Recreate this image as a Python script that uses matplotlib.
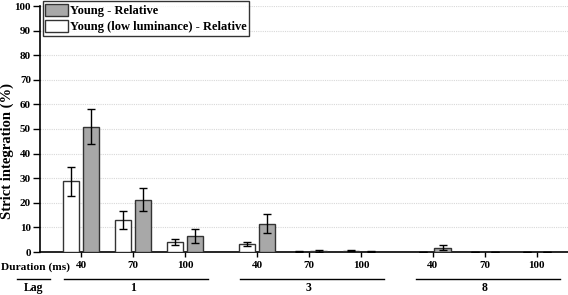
import matplotlib
matplotlib.use("Agg")
import matplotlib.pyplot as plt
import matplotlib.transforms as mtransforms
import numpy as np

# data
lags = ["1", "3", "8"]
durations = ["40", "70", "100"]
low_lum = [28.7, 13.0, 4.0, 3.3, 0.2, 0.5, 0.1, 0.1, 0.1]
low_lum_err = [5.8, 3.8, 1.1, 0.9, 0.1, 0.2, 0.1, 0.1, 0.1]
young = [51.0, 21.2, 6.5, 11.5, 0.5, 0.2, 1.8, 0.1, 0.1]
young_err = [7.0, 4.7, 2.7, 3.9, 0.3, 0.1, 1.1, 0.1, 0.1]

plt.rcParams['font.family'] = ['Liberation Serif', 'DejaVu Serif']
plt.rcParams['font.weight'] = 'bold'

fig = plt.figure(figsize=(5.68, 2.95), dpi=100)
ax = fig.add_axes([40 / 568, 43 / 295, 528 / 568, 246 / 295])

group_step = 3.385
x = np.array([g * group_step + d for g in range(3) for d in range(3)])
w = 0.32
off = 0.19

ekw = dict(ecolor='black', elinewidth=1, capsize=3, capthick=1)
b_low = ax.bar(x - off, low_lum, w, yerr=low_lum_err, color='white',
               edgecolor='#333333', linewidth=1, error_kw=ekw, zorder=3)
b_young = ax.bar(x + off, young, w, yerr=young_err, color='#a8a8a8',
                 edgecolor='#333333', linewidth=1, error_kw=ekw, zorder=3)

ax.set_xlim(-0.79, 9.37)
ax.set_ylim(0, 100)
ax.set_yticks(range(0, 101, 10))
ax.tick_params(axis='y', labelsize=8, length=5, width=1, pad=1.5)
ax.set_xticks(x)
ax.set_xticklabels(durations * 3)
ax.tick_params(axis='x', labelsize=8, length=3.5, width=1, pad=3)
for lab in ax.get_xticklabels() + ax.get_yticklabels():
    lab.set_fontweight('bold')

ax.yaxis.grid(True, linestyle=(0, (1, 1)), color='#d8d8d8', linewidth=0.8)
ax.set_axisbelow(True)
for s in ['top', 'right']:
    ax.spines[s].set_visible(False)
ax.spines['left'].set_linewidth(1.2)
ax.spines['bottom'].set_linewidth(1.2)

fig.text(7 / 568, (295 - 151) / 295, 'Strict integration (%)', fontsize=10.5,
         fontweight='bold', rotation=90, ha='center', va='center')

leg = ax.legend([b_young, b_low],
                ['Young - Relative', 'Young (low luminance) - Relative'],
                loc='upper left', bbox_to_anchor=(0.005, 1.02),
                prop={'weight': 'bold', 'size': 9}, frameon=True, fancybox=False,
                borderpad=0.2, labelspacing=0.25, handlelength=1.8,
                handleheight=1.1, handletextpad=0.2, borderaxespad=0)
leg.get_frame().set_edgecolor('black')
leg.get_frame().set_linewidth(1)

# bottom annotation: Duration / Lag
fig.text(1 / 568, (295 - 267) / 295, 'Duration (ms)', fontsize=8.2,
         fontweight='bold', ha='left', va='center')
trans = mtransforms.blended_transform_factory(ax.transData, fig.transFigure)
line_y = (295 - 279) / 295
lab_y = (295 - 288) / 295
fig.add_artist(plt.Line2D([17 / 568, 50 / 568], [line_y, line_y],
                          color='black', linewidth=1, transform=fig.transFigure))
fig.text(34 / 568, lab_y, 'Lag', fontsize=8.5, fontweight='bold',
         ha='center', va='center')
for g, lag in enumerate(lags):
    start = x[g * 3] - 0.33
    end = x[g * 3 + 2] + 0.44
    fig.add_artist(plt.Line2D([start, end], [line_y, line_y], color='black',
                              linewidth=1, transform=trans))
    fig.text(x[g * 3 + 1], lab_y, lag, fontsize=8.5, fontweight='bold',
             ha='center', va='center', transform=trans)

fig.savefig('out.png', dpi=100)
